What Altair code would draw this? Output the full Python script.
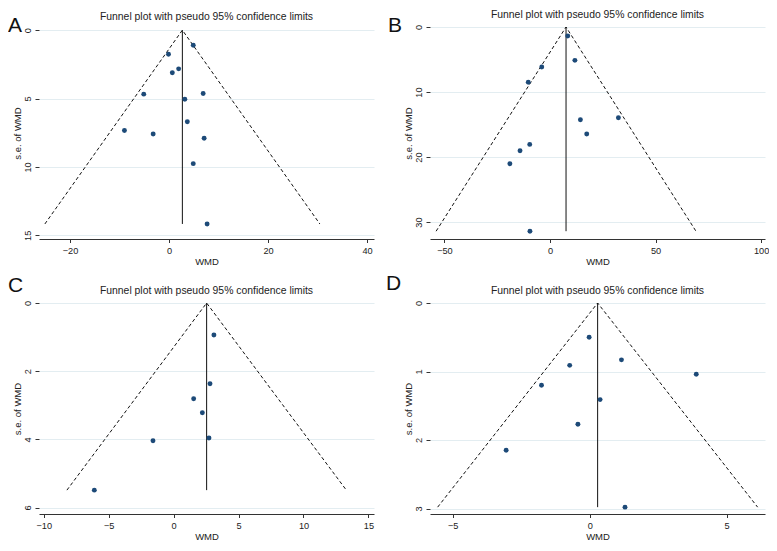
import altair as alt
import pandas as pd

FONT = "Liberation Sans"
TITLE = "Funnel plot with pseudo 95% confidence limits"

# ---- data ----
A_wmd = [4.9, -0.1, 1.95, 0.67, -5.1, 6.9, 3.2, 3.7, -9.0, -3.2, 7.1, 4.9, 7.7]
A_se = [1.10, 1.76, 2.83, 3.12, 4.68, 4.63, 5.05, 6.70, 7.34, 7.59, 7.90, 9.76, 14.17]
A_pooled = 2.7
A_xticks = [-20, 0, 20, 40]
A_yticks = [0, 5, 10, 15]

B_wmd = [8.4, 11.8, -3.9, -10.3, 14.4, 32.4, 17.4, -9.6, -14.2, -19.0, -9.5]
B_se = [1.38, 5.13, 6.15, 8.50, 14.26, 13.95, 16.46, 18.05, 19.03, 21.03, 31.40]
B_pooled = 7.6
B_xticks = [-50, 0, 50, 100]
B_yticks = [0, 10, 20, 30]

C_wmd = [3.1, 2.8, 1.54, 2.21, 2.72, -1.59, -6.11]
C_se = [0.94, 2.37, 2.81, 3.22, 3.96, 4.04, 5.49]
C_pooled = 2.54
C_xticks = [-10, -5, 0, 5, 10, 15]
C_yticks = [0, 2, 4, 6]

D_wmd = [-0.02, 1.16, -0.73, 3.89, -1.76, 0.38, -0.43, -3.05, 1.29]
D_se = [0.50, 0.83, 0.91, 1.04, 1.20, 1.41, 1.77, 2.15, 2.98]
D_pooled = 0.29
D_xticks = [-5, 0, 5]
D_yticks = [0, 1, 2, 3]

# axis extents (as in the reference)
A_xdom, A_ydom = [-26.26, 41.41], [-0.23, 15.27]
B_xdom, B_ydom = [-56.84, 101.85], [0, 32.6]
C_xdom, C_ydom = [-10.37, 15.43], [0, 6.19]
D_xdom, D_ydom = [-5.83, 6.40], [0, 3.08]

W = 335


def panel(letter, wmd, se, pooled, xdom, ydom, xticks, yticks, h, lx, ly, ty):
    semax = max(se)
    pts = pd.DataFrame({"WMD": wmd, "se": se})
    funnel = pd.DataFrame({
        "WMD": [pooled - 1.96 * semax, pooled, pooled + 1.96 * semax],
        "se": [semax, 0, semax],
        "o": [0, 1, 2],
    })
    vline = pd.DataFrame({"WMD": [pooled], "se": [0], "se2": [semax]})

    x = alt.X("WMD:Q", title="WMD",
              scale=alt.Scale(domain=xdom, nice=False, zero=False),
              axis=alt.Axis(values=xticks, grid=False, labelFlush=False,
                            format="d"))
    y = alt.Y("se:Q", title="s.e. of WMD",
              scale=alt.Scale(domain=ydom, nice=False, zero=False, reverse=True),
              axis=alt.Axis(values=yticks, grid=True, domain=False,
                            labelAngle=270, labelAlign="center",
                            labelBaseline="bottom", labelFlush=False,
                            labelPadding=3, titlePadding=1, format="d"))

    fun = alt.Chart(funnel).mark_line(color="#111", strokeWidth=1,
                                       strokeDash=[3.5, 2.5]).encode(
        x=x, y=y, order="o:Q")
    rule = alt.Chart(vline).mark_rule(color="#111", strokeWidth=1).encode(
        x="WMD:Q", y="se:Q", y2="se2:Q")
    dots = alt.Chart(pts).mark_circle(size=24, color="#1d4a78",
                                       opacity=1).encode(x=x, y=y)
    lab = alt.Chart(pd.DataFrame({"t": [letter]})).mark_text(
        align="left", baseline="alphabetic", fontSize=21, font=FONT,
        color="#111").encode(text="t:N", x=alt.value(lx), y=alt.value(ly))
    ttl = alt.Chart(pd.DataFrame({"t": [TITLE]})).mark_text(
        align="center", baseline="alphabetic", fontSize=10.4, font=FONT,
        color="#222").encode(text="t:N", x=alt.value(W / 2), y=alt.value(ty))

    return alt.layer(fun, rule, dots, lab, ttl).properties(width=W, height=h)


pa = panel("A", A_wmd, A_se, A_pooled, A_xdom, A_ydom, A_xticks, A_yticks, 212, -31, 4.8, -7.2)
pb = panel("B", B_wmd, B_se, B_pooled, B_xdom, B_ydom, B_xticks, B_yticks, 212, -42, 4.8, -9.3)
pc = panel("C", C_wmd, C_se, C_pooled, C_xdom, C_ydom, C_xticks, C_yticks, 211, -31, -11.2, -8.7)
pd_ = panel("D", D_wmd, D_se, D_pooled, D_xdom, D_ydom, D_xticks, D_yticks, 211, -44, -12.8, -8.7)

chart = alt.concat(pa, pb, pc, pd_, columns=2, bounds="flush",
                   spacing={"row": 64, "column": 56}).properties(
    padding={"left": 0, "top": 1, "right": 0, "bottom": 0},
    background="white",
).configure_view(stroke=None).configure_axis(
    labelFont=FONT, titleFont=FONT, labelFontSize=9.2, titleFontSize=9.5,
    titleFontWeight="normal", labelColor="#222", titleColor="#222",
    tickColor="#333", tickSize=4, domainColor="#333", domainWidth=1,
    gridColor="#e3edf1", gridWidth=1,
).configure_axisX(labelPadding=3.5, titlePadding=1.5, tickSize=3.5)

chart.save("out.html", embed_options={"renderer": "svg", "actions": False})
